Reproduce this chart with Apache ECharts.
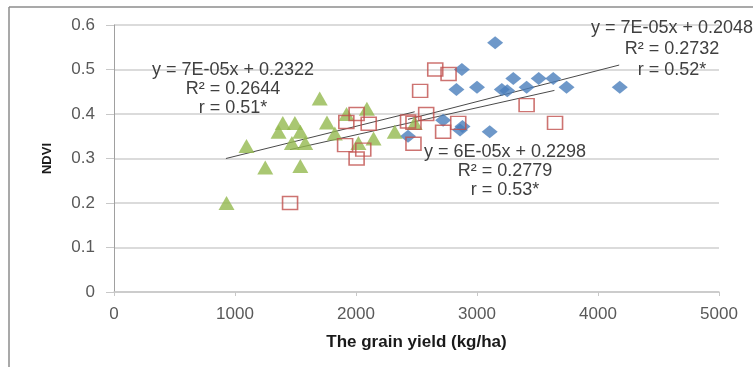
<!DOCTYPE html>
<html>
<head>
<meta charset="utf-8">
<script src="https://cdn.jsdelivr.net/npm/echarts@6/dist/echarts.min.js"></script>
<style>
html,body{margin:0;padding:0;background:#fff;}
#c{width:753px;height:367px;}
</style>
</head>
<body>
<div id="c"></div>
<script>
// ---- data (x = grain yield kg/ha, y = NDVI) ----
const xTicks = [0, 1000, 2000, 3000, 4000, 5000];
const yTicks = [0, 0.1, 0.2, 0.3, 0.4, 0.5, 0.6];

const seriesBlue = [
  [3150,0.56],[2875,0.50],[2830,0.455],[3000,0.46],[3300,0.48],[3205,0.455],
  [3250,0.452],[3410,0.46],[3510,0.48],[3630,0.48],[3740,0.46],[4180,0.46],
  [3105,0.36],[2860,0.364],[2880,0.372],[2720,0.386],[2430,0.35]
];
const seriesRed = [
  [1455,0.20],[1920,0.382],[2005,0.40],[2105,0.378],[1910,0.33],[2005,0.30],
  [2060,0.32],[2430,0.383],[2475,0.333],[2475,0.38],[2530,0.452],[2580,0.40],
  [2655,0.50],[2765,0.49],[2720,0.36],[2845,0.38],[3410,0.42],[3645,0.38]
];
const seriesGreen = [
  [930,0.20],[1095,0.328],[1250,0.28],[1360,0.36],[1395,0.38],[1495,0.38],
  [1470,0.335],[1540,0.36],[1580,0.335],[1540,0.283],[1700,0.435],[1760,0.381],
  [1825,0.356],[1922,0.40],[2090,0.412],[2020,0.335],[2145,0.345],[2320,0.36],[2485,0.38]
];

// trend-line end points
const trendBlue  = [[2430,0.388],[4175,0.51]];
const trendRed   = [[1455,0.32],[3640,0.453]];
const trendGreen = [[925,0.30],[2485,0.405]];

const eqGreen = ['y = 7E-05x + 0.2322', 'R\u00B2 = 0.2644', 'r = 0.51*'];
const eqBlue  = ['y = 7E-05x + 0.2048', 'R\u00B2 = 0.2732', 'r = 0.52*'];
const eqRed   = ['y = 6E-05x + 0.2298', 'R\u00B2 = 0.2779', 'r = 0.53*'];

const xTitle = 'The grain yield (kg/ha)';
const yTitle = 'NDVI';

// ---- chart ----
const FONT = '"Liberation Sans", Arial, sans-serif';
const chart = echarts.init(document.getElementById('c'), null, {renderer:'canvas'});

function trend(data){
  return {type:'line', data:data, symbol:'none', silent:true, z:3,
    lineStyle:{color:'#4a4a4a', width:1}, animation:false};
}
function eqBlock(lines, cx, ys){
  return lines.map(function(t, i){
    return {type:'text', x:cx, y:ys[i], z:10, silent:true,
      style:{text:t, font:'18px '+FONT, fill:'#404040', align:'center', verticalAlign:'middle'}};
  });
}

const option = {
  animation:false,
  backgroundColor:'#ffffff',
  grid:{left:114, right:34, top:25, bottom:75, containLabel:false},
  xAxis:{
    type:'value', min:xTicks[0], max:xTicks[xTicks.length-1], interval:1000,
    name:xTitle, nameLocation:'middle', nameGap:42,
    nameTextStyle:{fontFamily:FONT, fontSize:17, fontWeight:'bold', color:'#1a1a1a'},
    axisLine:{show:true, lineStyle:{color:'#c8c8c8', width:1.5}},
    axisTick:{show:true, length:4, lineStyle:{color:'#c8c8c8'}},
    axisLabel:{fontFamily:FONT, fontSize:17, color:'#595959', margin:14,
      formatter:function(v){ return String(v); }},
    splitLine:{show:false}
  },
  yAxis:{
    type:'value', min:yTicks[0], max:yTicks[yTicks.length-1], interval:0.1,
    name:yTitle, nameLocation:'middle', nameGap:60, nameRotate:90,
    nameTextStyle:{fontFamily:FONT, fontSize:13, fontWeight:'bold', color:'#1a1a1a'},
    axisLine:{show:true, lineStyle:{color:'#a0a0a0', width:1}},
    axisTick:{show:true, length:8, lineStyle:{color:'#c8c8c8'}},
    axisLabel:{fontFamily:FONT, fontSize:17, color:'#595959', margin:19,
      formatter:function(v){ return String(Math.round(v*10)/10); }},
    splitLine:{show:true, lineStyle:{color:'#cfcfcf', width:1.5}}
  },
  series:[
    {type:'scatter', name:'blue', data:seriesBlue, symbol:'diamond', symbolSize:[16,13], z:4,
      itemStyle:{color:'#4a7ebb'}},
    {type:'scatter', name:'green', data:seriesGreen, symbol:'triangle', symbolSize:[16,14], z:4,
      itemStyle:{color:'#93b94f'}},
    {type:'scatter', name:'red', data:seriesRed, symbol:'rect', symbolSize:[15,13], z:5,
      itemStyle:{color:'rgba(255,255,255,0)', borderColor:'#c0504d', borderWidth:1.5}},
    trend(trendBlue), trend(trendRed), trend(trendGreen)
  ],
  graphic:[
    {type:'line', shape:{x1:9, y1:7, x2:753, y2:7}, style:{stroke:'#8c8c8c', lineWidth:1.5}, silent:true},
    {type:'line', shape:{x1:9, y1:7, x2:9, y2:367}, style:{stroke:'#8c8c8c', lineWidth:1.5}, silent:true}
  ].concat(
    eqBlock(eqGreen, 233, [70, 89, 108]),
    eqBlock(eqBlue, 672, [28, 49, 70]),
    eqBlock(eqRed, 505, [152, 171, 190])
  )
};
chart.setOption(option);
</script>
</body>
</html>
